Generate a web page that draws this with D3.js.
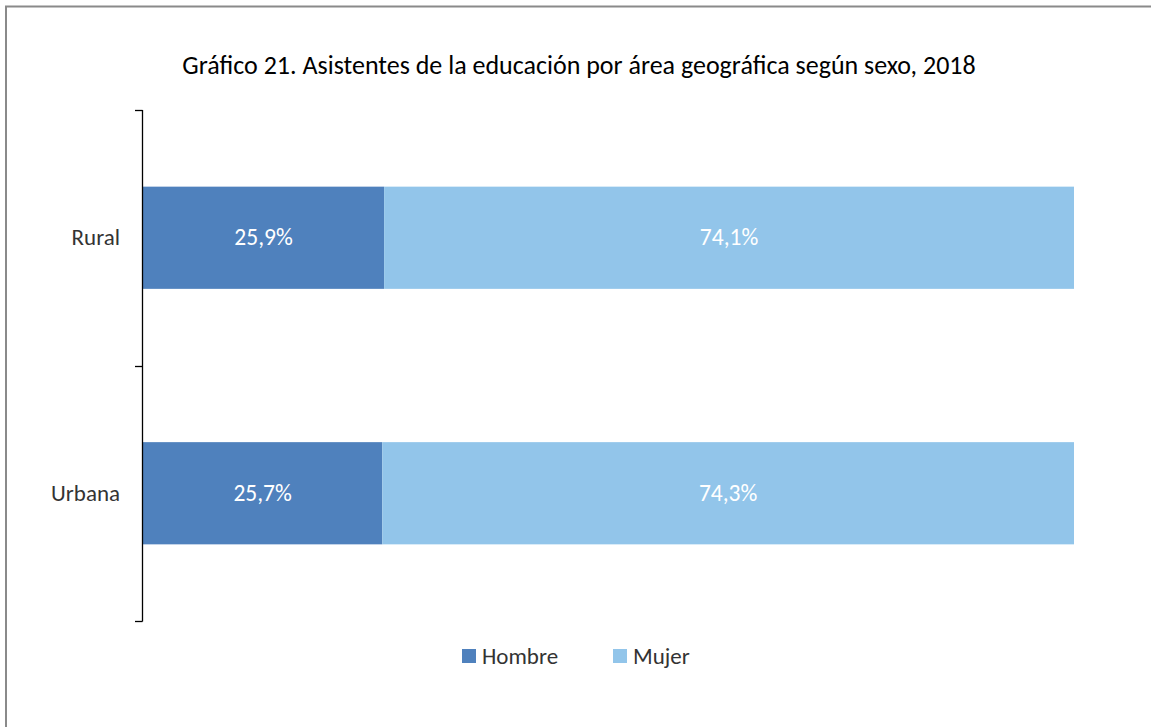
<!DOCTYPE html>
<html><head><meta charset="utf-8">
<script src="https://cdn.jsdelivr.net/npm/d3@7"></script>
<style>
html,body{margin:0;padding:0;background:#fff;}
svg{display:block;font-family:Carlito, Lato, "Open Sans", sans-serif;}
</style></head>
<body><svg id="chart" width="1151" height="727"></svg>
<script>
const title = "Gráfico 21. Asistentes de la educación por área geográfica según sexo, 2018";
const categories = ["Rural", "Urbana"];
const seriesNames = ["Hombre", "Mujer"];
const hombre = [25.9, 25.7];
const mujer = [74.1, 74.3];
const colors = ["#4F81BD", "#92C5EA"];

const svg = d3.select("#chart");
// outer frame
svg.append("path").attr("d", "M6,727 V6.5 H1151").attr("fill", "none")
  .attr("stroke", "#8a8a8a").attr("stroke-width", 2);

svg.append("text").attr("x", 579).attr("y", 74).attr("text-anchor", "middle")
  .attr("font-size", 26).attr("fill", "#000").text(title);

const x = d3.scaleLinear().domain([0, 100]).range([143, 1074]);
const y = d3.scaleBand().domain(categories).range([110, 621]).paddingInner(0.6).paddingOuter(0.3);

const data = categories.map((c, i) => ({cat: c, vals: [hombre[i], mujer[i]]}));
const stack = [];
data.forEach(d => {
  let acc = 0;
  d.vals.forEach((v, j) => { stack.push({cat: d.cat, s: j, x0: acc, x1: acc + v, v}); acc += v; });
});

const g = svg.append("g");
g.selectAll("rect").data(stack).join("rect")
  .attr("x", d => x(d.x0)).attr("width", d => x(d.x1) - x(d.x0))
  .attr("y", d => y(d.cat)).attr("height", y.bandwidth())
  .attr("fill", d => colors[d.s]);

g.selectAll("text.lbl").data(stack).join("text").attr("class", "lbl")
  .attr("x", d => (x(d.x0) + x(d.x1)) / 2).attr("y", d => y(d.cat) + y.bandwidth() / 2)
  .attr("dy", "0.32em").attr("text-anchor", "middle").attr("fill", "#fff").attr("font-size", 23.5)
  .text(d => d.v.toFixed(1).replace(".", ",") + "%");

// y axis with category-boundary ticks
const ax = svg.append("g");
ax.append("line").attr("x1", 142.5).attr("x2", 142.5).attr("y1", 110).attr("y2", 621.5)
  .attr("stroke", "#000").attr("stroke-width", 1.3);
const bounds = [110, (y(categories[0]) + y.bandwidth() + y(categories[1])) / 2, 621];
ax.selectAll("line.t").data(bounds).join("line").attr("class", "t")
  .attr("x1", 135).attr("x2", 142.5).attr("y1", d => Math.round(d) + 0.5).attr("y2", d => Math.round(d) + 0.5)
  .attr("stroke", "#000").attr("stroke-width", 1.3);
ax.selectAll("text").data(categories).join("text")
  .attr("x", 120).attr("y", d => y(d) + y.bandwidth() / 2).attr("dy", "0.33em")
  .attr("text-anchor", "end").attr("font-size", 23).attr("fill", "#333").text(d => d);

// legend
const legX = [462, 613];
const leg = svg.append("g");
seriesNames.forEach((n, i) => {
  leg.append("rect").attr("x", legX[i]).attr("y", 649).attr("width", 14).attr("height", 14).attr("fill", colors[i]);
  leg.append("text").attr("x", legX[i] + 20).attr("y", 664).attr("font-size", 23).attr("fill", "#333").text(n);
});
</script></body></html>
